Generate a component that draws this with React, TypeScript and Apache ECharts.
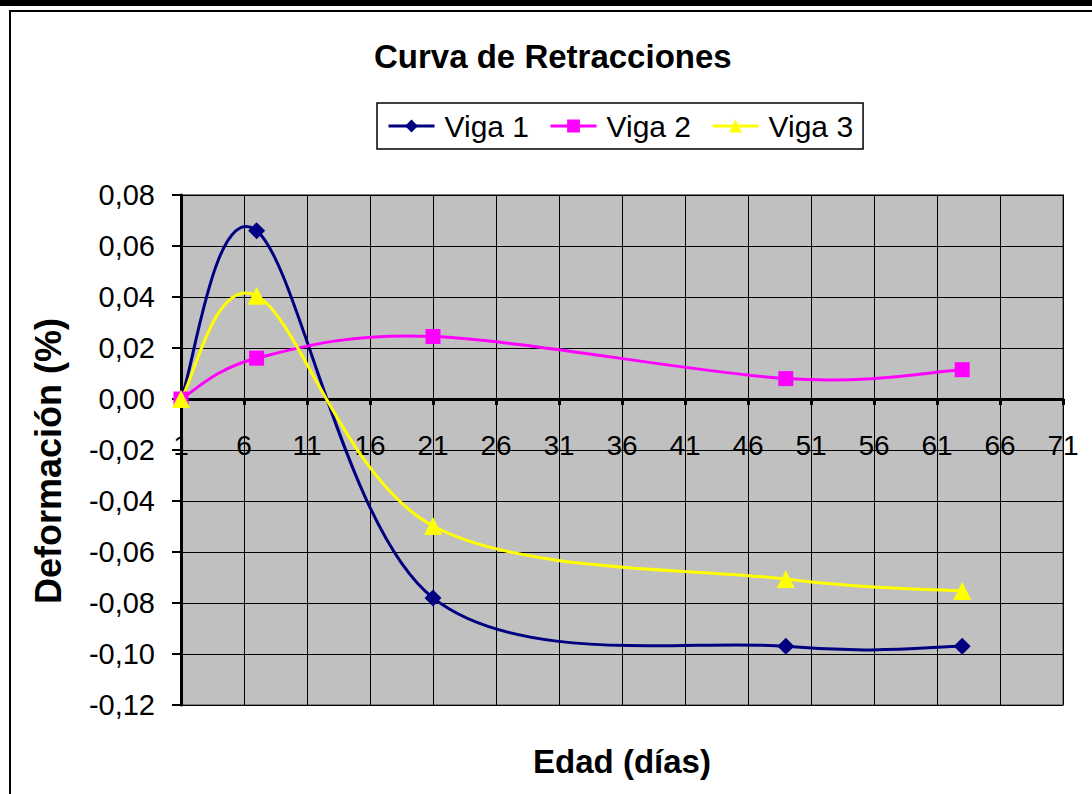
import React, { useEffect, useRef } from "react";
import * as echarts from "echarts";

const days = [1, 7, 21, 49, 63];
const viga1 = [0, 0.066, -0.078, -0.097, -0.097];
const viga2 = [0, 0.016, 0.0245, 0.008, 0.0115];
const viga3 = [0, 0.0405, -0.0498, -0.0706, -0.0753];
const seriesNames = ["Viga 1", "Viga 2", "Viga 3"];
const seriesColors = ["#000080", "#FF00FF", "#FFFF00"];
const seriesSymbols = ["diamond", "rect", "triangle"];
const titleText = "Curva de Retracciones";
const xName = "Edad (días)";
const yName = "Deformación (%)";

const FONT = "'Liberation Sans', Arial, sans-serif";

export default function App() {
  const ref = useRef<HTMLDivElement>(null);
  useEffect(() => {
    if (!ref.current) return;
    const chart = echarts.init(ref.current, undefined, { renderer: "svg" });
    const allVals = [viga1, viga2, viga3];
    const mk = (vals: number[]) => days.map((d, i) => [d, vals[i]]);

    // Excel-style smoothed curve (Catmull-Rom, 1/6 tension) drawn segment by segment
    const curveSeries = (vals: number[], color: string, idx: number) => ({
      type: "custom",
      name: "curve" + idx,
      coordinateSystem: "cartesian2d",
      z: 2 + idx,
      silent: true,
      data: mk(vals),
      encode: { x: 0, y: 1 },
      renderItem: (params: any, api: any) => {
        const i = params.dataIndex;
        const n = days.length;
        if (i >= n - 1) return null;
        const P = days.map((d, k) => api.coord([d, vals[k]]));
        const p0 = P[Math.max(i - 1, 0)];
        const p1 = P[i];
        const p2 = P[i + 1];
        const p3 = P[Math.min(i + 2, n - 1)];
        return {
          type: "bezierCurve",
          shape: {
            x1: p1[0],
            y1: p1[1],
            cpx1: p1[0] + (p2[0] - p0[0]) / 6,
            cpy1: p1[1] + (p2[1] - p0[1]) / 6,
            cpx2: p2[0] - (p3[0] - p1[0]) / 6,
            cpy2: p2[1] - (p3[1] - p1[1]) / 6,
            x2: p2[0],
            y2: p2[1],
          },
          style: { stroke: color, lineWidth: 3, fill: "none" },
        };
      },
    });

    const markerSeries = (idx: number) => ({
      type: "line",
      name: seriesNames[idx],
      data: mk(allVals[idx]),
      symbol: seriesSymbols[idx],
      symbolSize: idx === 0 ? 17 : idx === 1 ? 15 : 18,
      color: seriesColors[idx],
      lineStyle: { width: 0, color: seriesColors[idx] },
      clip: false,
      z: 10 + idx,
    });

    chart.setOption({
      animation: false,
      backgroundColor: "transparent",
      textStyle: { fontFamily: FONT },
      graphic: [
        { type: "rect", z: -100, shape: { x: 10, y: 11, width: 1100, height: 800 }, style: { fill: "#fff", stroke: "#000", lineWidth: 2 } },
        { type: "rect", z: -99, shape: { x: 0, y: 0, width: 1092, height: 6 }, style: { fill: "#000" } },
      ],
      title: {
        text: titleText,
        left: 374,
        top: 40,
        padding: 0,
        textStyle: { fontFamily: FONT, fontSize: 33, fontWeight: "bold", color: "#000" },
      },
      legend: {
        data: seriesNames,
        left: 377,
        top: 103,
        padding: [8, 10, 8, 10],
        itemWidth: 46,
        itemHeight: 16,
        itemGap: 20,
        borderColor: "#000",
        borderWidth: 1.5,
        backgroundColor: "#fff",
        lineStyle: { width: 3 },
        textStyle: { fontFamily: FONT, fontSize: 30, color: "#000", padding: [0, 0, 0, 5] },
      },
      grid: {
        left: 181,
        right: 29,
        top: 195,
        bottom: 89,
        containLabel: false,
        outerBoundsMode: "none",
        show: true,
        backgroundColor: "#C0C0C0",
        borderColor: "#808080",
        borderWidth: 2,
      },
      xAxis: {
        type: "value",
        min: 1,
        max: 71,
        interval: 5,
        offset: -306,
        name: xName,
        nameLocation: "middle",
        nameGap: 346,
        nameTextStyle: { fontFamily: FONT, fontSize: 33, fontWeight: "bold", color: "#000" },
        axisLine: { onZero: false, lineStyle: { color: "#000", width: 3 } },
        axisTick: { show: true, length: 6, lineStyle: { color: "#000", width: 3 } },
        axisLabel: { margin: 32, fontFamily: FONT, fontSize: 28, color: "#000" },
        splitLine: { show: true, lineStyle: { color: "#000", width: 1 } },
      },
      yAxis: {
        type: "value",
        min: -0.12,
        max: 0.08,
        interval: 0.02,
        name: yName,
        nameLocation: "middle",
        nameRotate: 90,
        nameGap: 115,
        nameTextStyle: { fontFamily: FONT, fontSize: 36, fontWeight: "bold", color: "#000", padding: [0, 22, 0, 0] },
        axisLine: { show: true, onZero: false, lineStyle: { color: "#000", width: 3 } },
        axisTick: { show: true, length: 9, lineStyle: { color: "#000", width: 2 } },
        axisLabel: {
          margin: 26,
          fontFamily: FONT,
          fontSize: 29,
          color: "#000",
          formatter: (v: number) => (Math.abs(v) < 1e-9 ? "0,00" : v.toFixed(2).replace(".", ",")),
        },
        splitLine: { show: true, lineStyle: { color: "#000", width: 1 } },
      },
      series: [
        markerSeries(0),
        markerSeries(1),
        markerSeries(2),
        curveSeries(viga1, seriesColors[0], 0),
        curveSeries(viga2, seriesColors[1], 1),
        curveSeries(viga3, seriesColors[2], 2),
      ],
    });
    return () => chart.dispose();
  }, []);
  return <div ref={ref} style={{ position: "absolute", left: 0, top: 0, width: 1092, height: 794 }} />;
}
